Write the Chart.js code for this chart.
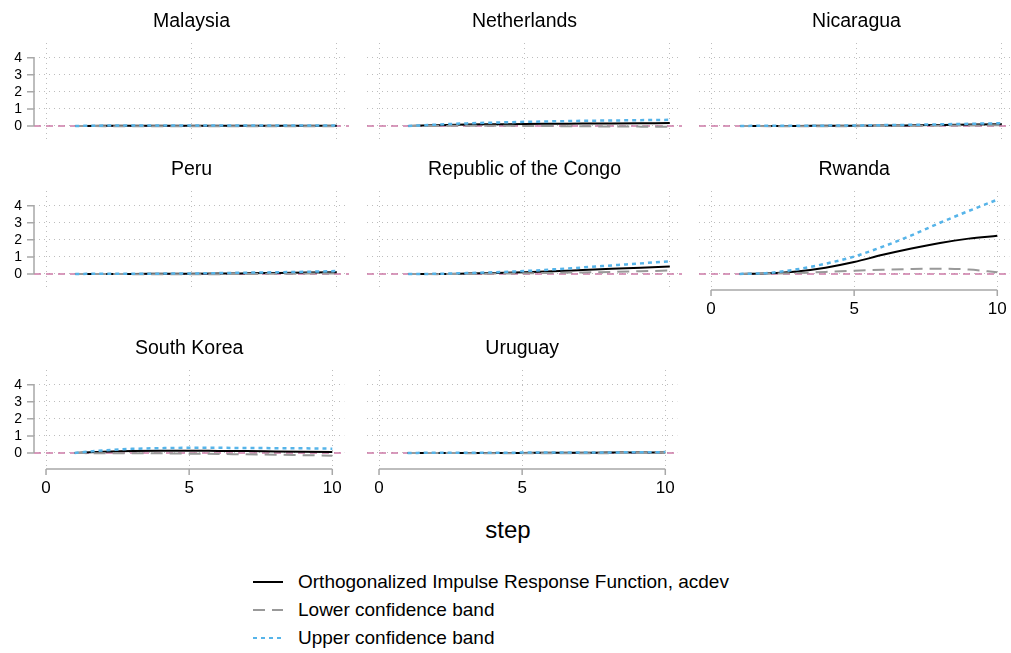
<!DOCTYPE html>
<html>
<head>
<meta charset="UTF-8">
<title>Orthogonalized IRF by country</title>
<script src="https://cdn.jsdelivr.net/npm/chart.js"></script>
<style>
    body {
        margin: 0;
        background: #fff;
        font-family: 'Liberation Sans', Arial, sans-serif;
    }

    #wrap {
        position: relative;
        width: 1011px;
        height: 653px;
        overflow: hidden;
    }

    canvas.panel {
        position: absolute;
    }

    #stepLabel {
        position: absolute;
        left: 408px;
        width: 200px;
        top: 516px;
        line-height: 28px;
        text-align: center;
        font-size: 24px;
        color: #000;
    }

    .legendRow {
        position: absolute;
        left: 253px;
        height: 24px;
        display: flex;
        align-items: center;
        font-size: 19px;
        color: #000;
        white-space: nowrap;
    }

    .legendRow svg {
        width: 30px;
        height: 4px;
        margin-right: 15px;
    }
</style>
</head>
<body>
<div id="wrap">
    <div id="stepLabel">step</div>
    <div class="legendRow" style="top:570px">
        <svg viewBox="0 0 30 4"><line x1="0" y1="2" x2="30" y2="2" stroke="#000" stroke-width="2"/></svg>
        Orthogonalized Impulse Response Function, acdev
    </div>
    <div class="legendRow" style="top:598px">
        <svg viewBox="0 0 30 4"><line x1="0" y1="2" x2="30" y2="2" stroke="#999999" stroke-width="2" stroke-dasharray="12 7"/></svg>
        Lower confidence band
    </div>
    <div class="legendRow" style="top:626px">
        <svg viewBox="0 0 30 4"><line x1="0" y1="2" x2="30" y2="2" stroke="#56B4E9" stroke-width="2" stroke-dasharray="4 4"/></svg>
        Upper confidence band
    </div>
</div>

<script>
    // steps and panels
    var steps = [1, 2, 3, 4, 5, 6, 7, 8, 9, 10];
    var countries = ['Malaysia', 'Netherlands', 'Nicaragua', 'Peru',
        'Republic of the Congo', 'Rwanda', 'South Korea', 'Uruguay'];
    var xTicks = [0, 5, 10];
    var yTicks = [0, 1, 2, 3, 4];

    // one row per country
    var irf = [
        [0, 0.01, 0.01, 0.01, 0.01, 0.01, 0.01, 0.01, 0.01, 0.01],
        [0, 0.04, 0.08, 0.10, 0.12, 0.13, 0.14, 0.15, 0.16, 0.17],
        [0, 0.00, 0.00, 0.01, 0.01, 0.02, 0.04, 0.06, 0.08, 0.10],
        [0, 0.00, 0.00, 0.01, 0.01, 0.02, 0.04, 0.06, 0.08, 0.10],
        [0, 0.00, 0.02, 0.05, 0.10, 0.16, 0.23, 0.30, 0.37, 0.44],
        [0, 0.04, 0.15, 0.37, 0.70, 1.12, 1.49, 1.82, 2.07, 2.24],
        [0, 0.07, 0.12, 0.13, 0.13, 0.12, 0.11, 0.09, 0.07, 0.05],
        [0, 0.00, 0.00, 0.00, 0.00, 0.01, 0.01, 0.02, 0.02, 0.03]
    ];
    var lower = [
        [0, -0.01, -0.01, -0.01, -0.01, -0.01, -0.01, -0.01, -0.01, -0.01],
        [0, 0.00, 0.01, 0.01, 0.00, -0.01, -0.02, -0.03, -0.04, -0.05],
        [0, -0.01, -0.01, -0.01, -0.01, 0.00, 0.01, 0.02, 0.03, 0.04],
        [0, 0.00, -0.01, -0.01, -0.01, -0.01, 0.00, 0.01, 0.02, 0.03],
        [0, -0.01, 0.00, 0.02, 0.04, 0.06, 0.09, 0.12, 0.16, 0.20],
        [0, 0.02, 0.05, 0.12, 0.19, 0.25, 0.29, 0.31, 0.26, 0.10],
        [0, -0.02, -0.01, -0.02, -0.04, -0.06, -0.08, -0.10, -0.13, -0.16],
        [0, 0.00, -0.01, -0.01, -0.01, -0.01, -0.01, -0.01, 0.00, 0.01]
    ];
    var upper = [
        [0, 0.02, 0.02, 0.03, 0.03, 0.03, 0.03, 0.03, 0.03, 0.03],
        [0, 0.08, 0.15, 0.20, 0.24, 0.27, 0.30, 0.32, 0.34, 0.36],
        [0, 0.01, 0.01, 0.02, 0.03, 0.05, 0.07, 0.10, 0.13, 0.16],
        [0, 0.01, 0.01, 0.02, 0.03, 0.05, 0.08, 0.10, 0.13, 0.17],
        [0, 0.01, 0.05, 0.10, 0.17, 0.27, 0.38, 0.50, 0.62, 0.74],
        [0, 0.06, 0.27, 0.60, 1.02, 1.60, 2.26, 3.00, 3.69, 4.35],
        [0, 0.15, 0.24, 0.28, 0.30, 0.30, 0.29, 0.28, 0.27, 0.25],
        [0, 0.01, 0.01, 0.01, 0.02, 0.02, 0.03, 0.03, 0.04, 0.05]
    ];

    // grid placement of the panels
    var panelCol = [0, 1, 2, 0, 1, 2, 0, 1];
    var panelRow = [0, 0, 0, 1, 1, 1, 2, 2];
    var colLeft = [34, 367, 699];
    var rowTop = [43, 191, 370];
    var plotW = 315, plotH = 99;
    var leftSpace = 34, topSpace = 43, bottomSpace = 46;

    var fontFamily = "'Liberation Sans', Arial, sans-serif";
    var axisColor = '#a8a8a8';

    // y=0 line plus Stata-like axis lines that only cover the tick range
    var stataAxes = {
        id: 'stataAxes',
        beforeDatasetsDraw: function(chart) {
            var ctx = chart.ctx, area = chart.chartArea;
            var y0 = chart.scales.y.getPixelForValue(0);
            ctx.save();
            ctx.strokeStyle = '#CC79A7';
            ctx.lineWidth = 1.5;
            ctx.setLineDash([7, 5]);
            ctx.beginPath();
            ctx.moveTo(area.left, y0);
            ctx.lineTo(area.right, y0);
            ctx.stroke();
            ctx.restore();
        },
        afterDraw: function(chart, args, opts) {
            var ctx = chart.ctx, area = chart.chartArea;
            var xs = chart.scales.x, ys = chart.scales.y;
            ctx.save();
            ctx.strokeStyle = axisColor;
            ctx.lineWidth = 1.5;
            ctx.beginPath();
            if (opts.showY) {
                var xl = area.left;
                ctx.moveTo(xl, ys.getPixelForValue(yTicks[0]));
                ctx.lineTo(xl, ys.getPixelForValue(yTicks[yTicks.length - 1]));
                yTicks.forEach(function(v) {
                    var py = ys.getPixelForValue(v);
                    ctx.moveTo(xl - 7, py);
                    ctx.lineTo(xl, py);
                });
            }
            if (opts.showX) {
                var yb = area.bottom;
                ctx.moveTo(xs.getPixelForValue(xTicks[0]), yb);
                ctx.lineTo(xs.getPixelForValue(xTicks[xTicks.length - 1]), yb);
                xTicks.forEach(function(v) {
                    var px = xs.getPixelForValue(v);
                    ctx.moveTo(px, yb);
                    ctx.lineTo(px, yb + 6);
                });
            }
            ctx.stroke();
            ctx.restore();
        }
    };

    function points(values) {
        return values.map(function(v, i) { return { x: steps[i], y: v }; });
    }

    var wrap = document.getElementById('wrap');

    countries.forEach(function(name, i) {
        var col = panelCol[i], row = panelRow[i];
        var showY = col === 0;
        var showX = (i === 5 || row === 2);

        var canvas = document.createElement('canvas');
        canvas.className = 'panel';
        canvas.width = leftSpace + plotW + 2;
        canvas.height = topSpace + plotH + bottomSpace;
        canvas.style.left = (colLeft[col] - leftSpace) + 'px';
        canvas.style.top = (rowTop[row] - topSpace) + 'px';
        wrap.appendChild(canvas);

        new Chart(canvas.getContext('2d'), {
            type: 'line',
            data: {
                datasets: [{
                    label: 'Orthogonalized Impulse Response Function, acdev',
                    data: points(irf[i]),
                    borderColor: '#000000',
                    borderWidth: 2,
                    order: 3
                }, {
                    label: 'Lower confidence band',
                    data: points(lower[i]),
                    borderColor: '#999999',
                    borderWidth: 2,
                    borderDash: [12, 7],
                    order: 2
                }, {
                    label: 'Upper confidence band',
                    data: points(upper[i]),
                    borderColor: '#56B4E9',
                    borderWidth: 2.5,
                    borderDash: [4, 4],
                    order: 1
                }]
            },
            options: {
                responsive: false,
                animation: false,
                events: [],
                layout: { padding: { left: 0, right: 2, top: 0, bottom: 0 } },
                elements: {
                    point: { radius: 0 },
                    line: { cubicInterpolationMode: 'monotone', fill: false }
                },
                plugins: {
                    legend: { display: false },
                    tooltip: { enabled: false },
                    title: {
                        display: true,
                        text: name,
                        fullSize: false,
                        color: '#000',
                        font: { family: fontFamily, size: 19.5, weight: 'normal', lineHeight: 1.2 },
                        padding: { top: 10, bottom: 9.6 }
                    },
                    stataAxes: { showX: showX, showY: showY }
                },
                scales: {
                    x: {
                        type: 'linear',
                        min: -0.42,
                        max: 10.42,
                        afterBuildTicks: function(s) {
                            s.ticks = xTicks.map(function(v) { return { value: v }; });
                        },
                        afterFit: function(s) { s.height = bottomSpace; },
                        border: { display: false, dash: [1, 4] },
                        grid: {
                            color: '#bdbdbd',
                            lineWidth: 1,
                            drawTicks: false
                        },
                        ticks: {
                            display: showX,
                            padding: 9,
                            maxRotation: 0,
                            color: '#000',
                            font: { family: fontFamily, size: 17 }
                        }
                    },
                    y: {
                        min: -0.94,
                        max: 4.86,
                        afterBuildTicks: function(s) {
                            s.ticks = yTicks.map(function(v) { return { value: v }; });
                        },
                        afterFit: function(s) { s.width = leftSpace; },
                        border: { display: false, dash: [1, 4] },
                        grid: {
                            color: '#bdbdbd',
                            lineWidth: 1,
                            drawTicks: false
                        },
                        ticks: {
                            display: showY,
                            padding: 12,
                            color: '#000',
                            font: { family: fontFamily, size: 14 }
                        }
                    }
                }
            },
            plugins: [stataAxes]
        });
    });
</script>
</body>
</html>
